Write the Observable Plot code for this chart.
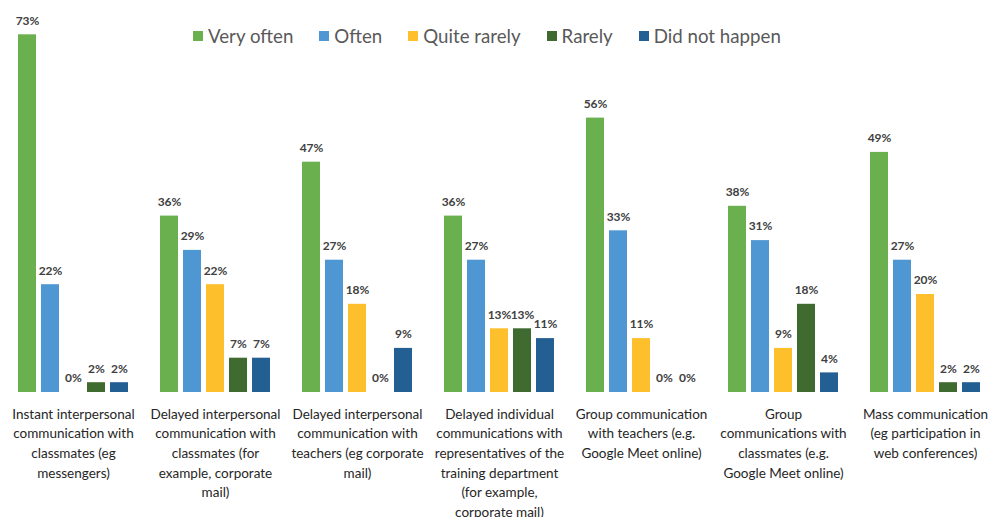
<!DOCTYPE html>
<html>
<head>
<meta charset="utf-8">
<script src="https://cdn.jsdelivr.net/npm/d3@7"></script>
<script src="https://cdn.jsdelivr.net/npm/@observablehq/plot@0.6"></script>
<style>
  html, body { margin: 0; padding: 0; background: #fff; }
  #wrap { position: relative; width: 993px; height: 517px; overflow: hidden; }
  #legend { position: absolute; top: 25px; left: 193px; display: flex; align-items: center;
            font-family: Lato, "Open Sans", sans-serif; font-size: 18.7px; color: #595959; white-space: nowrap; }
  #legend .item { display: flex; align-items: center; margin-right: 26px; }
  #legend .sw { width: 10px; height: 10px; margin-right: 5px; }
</style>
</head>
<body>
<div id="wrap"><div id="legend"></div></div>
<script>
const categories = [
  "Instant interpersonal\ncommunication with\nclassmates (eg\nmessengers)",
  "Delayed interpersonal\ncommunication with\nclassmates (for\nexample, corporate\nmail)",
  "Delayed interpersonal\ncommunication with\nteachers (eg corporate\nmail)",
  "Delayed individual\ncommunications with\nrepresentatives of the\ntraining department\n(for example,\ncorporate mail)",
  "Group communication\nwith teachers (e.g.\nGoogle Meet online)",
  "Group\ncommunications with\nclassmates (e.g.\nGoogle Meet online)",
  "Mass communication\n(eg participation in\nweb conferences)"
];
const series = ["Very often", "Often", "Quite rarely", "Rarely", "Did not happen"];
const veryOften    = [73, 36, 47, 36, 56, 38, 49];
const often        = [22, 29, 27, 27, 33, 31, 27];
const quiteRarely  = [0, 22, 18, 13, 11, 9, 20];
const rarely       = [2, 7, 0, 13, 0, 18, 2];
const didNotHappen = [2, 7, 9, 11, 0, 4, 2];
const colors = ["#6AB04F", "#4F97D3", "#FDBF2C", "#3F6A30", "#245F93"];

const valuesBySeries = [veryOften, often, quiteRarely, rarely, didNotHappen];
const data = [];
categories.forEach((c, i) => {
  series.forEach((s, j) => data.push({group: c, series: s, value: valuesBySeries[j][i]}));
});

const chart = Plot.plot({
  width: 993,
  height: 517,
  marginTop: 0,
  marginBottom: 125,
  marginLeft: 0,
  marginRight: 0,
  fx: {domain: categories, range: [0, 997], paddingInner: 0, paddingOuter: 0},
  x: {domain: series, paddingInner: 0.21, paddingOuter: 0.57, axis: null},
  y: {domain: [0, 80], axis: null},
  color: {domain: series, range: colors},
  style: {fontFamily: "Lato, 'Open Sans', sans-serif", background: "#fff"},
  marks: [
    Plot.barY(data, {fx: "group", x: "series", y: "value", fill: "series"}),
    Plot.text(data, {fx: "group", x: "series", y: "value", text: d => d.value + "%",
      dy: -14, fontWeight: "bold", fontSize: 12, fill: "#404040"}),
    Plot.axisFx({anchor: "bottom", tickSize: 0, tickPadding: 12.5, label: null,
      fontSize: 13.5, lineHeight: 1.45, fill: "#262626", textOverflow: null})
  ]
});
document.getElementById("wrap").prepend(chart);

const legend = document.getElementById("legend");
series.forEach((s, j) => {
  const it = document.createElement("div");
  it.className = "item";
  const sw = document.createElement("div");
  sw.className = "sw";
  sw.style.background = colors[j];
  const t = document.createElement("span");
  t.textContent = s;
  it.append(sw, t);
  legend.append(it);
});
</script>
</body>
</html>
